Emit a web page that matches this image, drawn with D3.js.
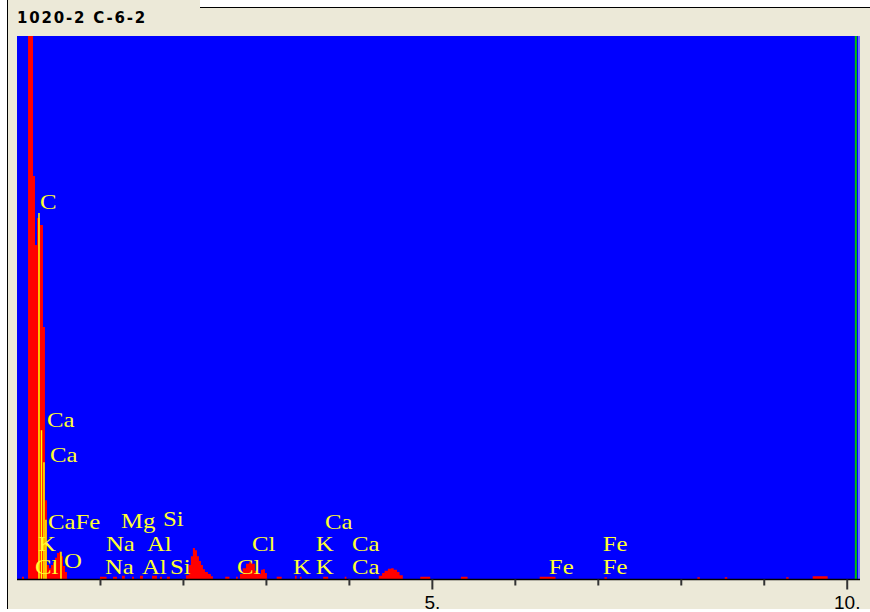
<!DOCTYPE html>
<html>
<head>
<meta charset="utf-8">
<script src="https://cdn.jsdelivr.net/npm/d3@7"></script>
<style>
  html, body { margin: 0; padding: 0; background: #ffffff; }
  svg { display: block; }
</style>
</head>
<body>
<svg id="chart" width="870" height="612"></svg>
<script>
// ---------- data ----------
const title = "1020-2 C-6-2";

// spectrum (energy in keV, counts in arbitrary units; full scale = 1000)
const energyKeV = [0, 0.06, 0.084, 0.133, 0.193, 0.217, 0.241, 0.277, 0.313, 0.337,
  0.361, 0.386, 0.410, 0.434, 0.458, 0.482, 0.506, 0.530, 0.554, 0.578, 0.602,
  1.00, 1.08, 1.157, 1.205, 1.265, 1.30, 1.386, 1.41, 1.482, 1.518, 1.627, 1.687, 1.723, 1.747, 1.807, 1.843,
  2.036, 2.07, 2.096, 2.12, 2.145, 2.169, 2.193, 2.217, 2.241, 2.265, 2.301, 2.337, 2.361,
  2.51, 2.56, 2.64, 2.66,
  2.687, 2.72, 2.76, 2.795, 2.831, 2.867, 2.904, 2.94, 2.964, 2.988, 3.012,
  3.13, 3.19, 3.35, 3.37, 3.41, 3.43, 3.69, 3.75, 3.95, 3.97,
  4.36, 4.40, 4.43, 4.47, 4.51, 4.54, 4.58, 4.61, 4.65,
  4.86, 4.98, 5.35, 5.43, 6.30, 6.49, 7.08, 7.11, 8.20, 8.23, 8.53, 8.56, 9.27, 9.30, 9.59, 9.77, 10.16];
const counts = [0, 4, 0, 1200, 742, 615, 665, 652, 464, 145,
  26, 20, 26, 31, 39, 48, 50, 42, 24, 13, 0,
  4, 0, 4, 0, 6, 0, 4, 0, 6, 0, 6, 0, 4, 0, 4, 0,
  7, 26, 42, 57, 53, 42, 33, 26, 18, 13, 9, 5, 0,
  4, 0, 4, 0,
  9, 20, 28, 31, 28, 15, 9, 17, 18, 11, 0,
  4, 0, 6, 0, 4, 0, 4, 0, 4, 0,
  6, 11, 15, 19, 20, 17, 13, 7, 0,
  4, 0, 4, 0, 4, 0, 3, 0, 3, 0, 3, 0, 3, 0, 5, 0, 0];

// element marker lines
const markerKeV = [0.265, 0.295, 0.325, 0.349, 0.530];
const markerCounts = [674, 274, 215, 109, 50];

// element labels (left position in keV, baseline in counts)
const labelText = ["C", "Ca", "Ca", "CaFe", "Mg", "Si", "Ca",
  "K", "Na", "Al", "Cl", "K", "Ca", "Fe",
  "Cl", "O", "Na", "Al", "Si", "Cl", "K", "K", "Ca", "Fe", "Fe"];
const labelKeV = [0.277, 0.361, 0.398, 0.373, 1.253, 1.759, 3.711,
  0.253, 1.072, 1.566, 2.831, 3.602, 4.036, 7.06,
  0.217, 0.566, 1.06, 1.506, 1.843, 2.651, 3.325, 3.602, 4.036, 6.41, 7.06];
const labelCounts = [681, 280, 215, 92, 94, 98, 92,
  52, 52, 52, 52, 52, 52, 52,
  9, 20, 9, 9, 9, 9, 9, 9, 9, 9, 9];

const tickValues = [1, 2, 3, 4, 5, 6, 7, 8, 9, 10];
const majorTicks = [5, 10];

// ---------- drawing ----------
const svg = d3.select("#chart");
const W = 870, H = 612;
const plot = { left: 17, right: 860, top: 36, bottom: 579 };

const x = d3.scaleLinear().domain([0, 10.16]).range([plot.left, plot.right]);
const y = d3.scaleLinear().domain([0, 1000]).range([plot.bottom, plot.top]);

// window background
svg.append("rect").attr("x", 0).attr("y", 0).attr("width", W).attr("height", H).attr("fill", "#ECE9D8");
svg.append("rect").attr("x", 0).attr("y", 0).attr("width", 7).attr("height", H).attr("fill", "#ffffff");
svg.append("line").attr("x1", 7.5).attr("x2", 7.5).attr("y1", 0).attr("y2", 609).attr("stroke", "#000").attr("stroke-width", 1);
svg.append("rect").attr("x", 200).attr("y", 0).attr("width", W - 200).attr("height", 7).attr("fill", "#ffffff");
svg.append("line").attr("x1", 200).attr("x2", W).attr("y1", 7.5).attr("y2", 7.5).attr("stroke", "#000").attr("stroke-width", 1);

// title
svg.append("text")
  .attr("x", 17).attr("y", 23)
  .attr("font-family", "'DejaVu Sans', Verdana, sans-serif")
  .attr("font-weight", "bold")
  .attr("font-size", 15)
  .attr("letter-spacing", "1.8px")
  .attr("fill", "#000")
  .text(title);

// plot background
svg.append("rect")
  .attr("x", plot.left).attr("y", plot.top)
  .attr("width", plot.right - plot.left).attr("height", plot.bottom - plot.top)
  .attr("fill", "#0000ff");
svg.append("rect")
  .attr("x", plot.right - 2).attr("y", plot.top)
  .attr("width", 2).attr("height", plot.bottom - plot.top)
  .attr("fill", "#6a6aff");

svg.append("clipPath").attr("id", "plotclip")
  .append("rect")
  .attr("x", plot.left).attr("y", plot.top)
  .attr("width", plot.right - plot.left).attr("height", plot.bottom - plot.top);

// green cursor line
svg.append("line")
  .attr("x1", x(10.11)).attr("x2", x(10.11))
  .attr("y1", plot.top).attr("y2", plot.bottom)
  .attr("stroke", "#00c400").attr("stroke-width", 2);

// spectrum
const spec = energyKeV.map((e, i) => ({ e, c: counts[i] }));
const area = d3.area()
  .x(d => x(d.e))
  .y0(y(0))
  .y1(d => y(d.c))
  .curve(d3.curveStepAfter);
svg.append("path")
  .attr("clip-path", "url(#plotclip)")
  .attr("d", area(spec))
  .attr("fill", "#ff0000");

// marker lines
svg.append("g").attr("clip-path", "url(#plotclip)")
  .selectAll("line")
  .data(markerKeV.map((e, i) => ({ e, c: markerCounts[i] })))
  .join("line")
  .attr("x1", d => x(d.e)).attr("x2", d => x(d.e))
  .attr("y1", y(0)).attr("y2", d => y(d.c))
  .attr("stroke", "#ffff00").attr("stroke-width", 1.5);

// element labels
svg.append("g")
  .selectAll("text")
  .data(labelText.map((t, i) => ({ t, e: labelKeV[i], c: labelCounts[i] })))
  .join("text")
  .attr("transform", d => `translate(${x(d.e)},${y(d.c)}) scale(1.24,1)`)
  .attr("font-family", "'Liberation Serif', 'Times New Roman', serif")
  .attr("font-size", 20)
  .attr("fill", "#ffff30")
  .text(d => d.t);

// x axis
const axis = d3.axisBottom(x)
  .tickValues(tickValues)
  .tickSize(6)
  .tickSizeOuter(0)
  .tickFormat(d => majorTicks.includes(d) ? d + "." : "");
const gx = svg.append("g")
  .attr("transform", `translate(0,${plot.bottom + 0.5})`)
  .call(axis);
gx.select(".domain").attr("stroke", "#000").attr("stroke-width", 1.5)
  .attr("d", `M${plot.left},0H${plot.right}`);
gx.selectAll(".tick line")
  .attr("stroke", "#333")
  .attr("stroke-width", 2)
  .attr("y2", d => majorTicks.includes(d) ? 10 : 6);
gx.selectAll(".tick text")
  .attr("dy", null)
  .attr("y", 29.5)
  .attr("fill", "#000")
  .attr("font-family", "'Liberation Sans', Arial, sans-serif")
  .attr("font-size", 19);

// bottom white strip
svg.append("rect").attr("x", 0).attr("y", 609).attr("width", W).attr("height", H - 609).attr("fill", "#ffffff");
</script>
</body>
</html>
